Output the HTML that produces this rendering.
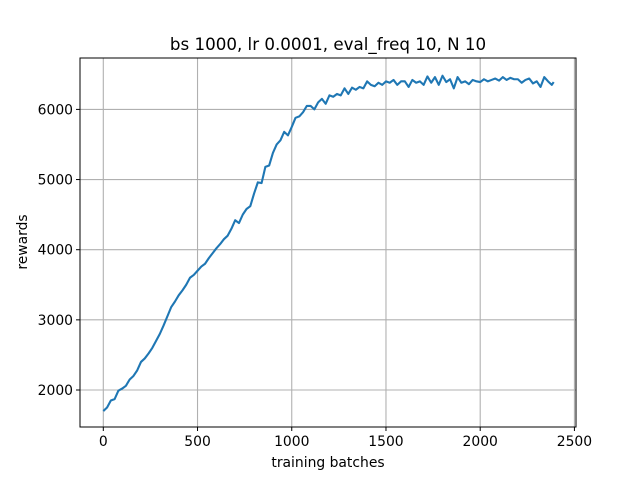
<!DOCTYPE html>
<html><head><meta charset="utf-8"><style>
body{margin:0;background:#fff;}
svg text{font-family:"DejaVu Sans","Liberation Sans",sans-serif;fill:#000;}
</style></head><body>
<svg id="chart" width="640" height="480" viewBox="0 0 640 480" xmlns="http://www.w3.org/2000/svg">
<rect width="640" height="480" fill="#fff"/>
<g id="grid"></g>
<g id="ticks"></g>
<polyline id="line" fill="none" stroke="#1f77b4" stroke-width="2.1" stroke-linejoin="round"/>
<rect x="80" y="58" width="496" height="369" fill="none" stroke="#000" stroke-width="1"/>
<text x="328" y="50" font-size="16.7" text-anchor="middle">bs 1000, lr 0.0001, eval_freq 10, N 10</text>
<text x="328" y="467" font-size="13.9" text-anchor="middle">training batches</text>
<text transform="translate(27,242) rotate(-90)" font-size="13.9" text-anchor="middle">rewards</text>
</svg>
<script>
const batches = [0,20,40,60,80,100,120,140,160,180,200,220,240,260,280,300,320,340,360,380,400,420,440,460,480,500,520,540,560,580,600,620,640,660,680,700,720,740,760,780,800,820,840,860,880,900,920,940,960,980,1000,1020,1040,1060,1080,1100,1120,1140,1160,1180,1200,1220,1240,1260,1280,1300,1320,1340,1360,1380,1400,1420,1440,1460,1480,1500,1520,1540,1560,1580,1600,1620,1640,1660,1680,1700,1720,1740,1760,1780,1800,1820,1840,1860,1880,1900,1920,1940,1960,1980,2000,2020,2040,2060,2080,2100,2120,2140,2160,2180,2200,2220,2240,2260,2280,2300,2320,2340,2360,2380,2390];
const rewards = [1700,1750,1850,1870,1990,2020,2060,2150,2200,2280,2400,2450,2520,2600,2700,2800,2920,3050,3180,3260,3350,3420,3500,3600,3640,3700,3760,3800,3880,3950,4020,4080,4150,4200,4300,4420,4380,4500,4580,4620,4800,4960,4950,5180,5200,5380,5500,5560,5680,5630,5750,5880,5900,5960,6050,6050,6000,6100,6150,6080,6200,6180,6220,6200,6300,6220,6310,6280,6320,6300,6400,6350,6330,6380,6350,6400,6380,6420,6350,6400,6400,6320,6420,6380,6400,6350,6470,6380,6460,6350,6480,6390,6430,6300,6460,6380,6400,6360,6420,6400,6390,6430,6400,6420,6440,6410,6460,6420,6450,6430,6430,6380,6420,6440,6370,6400,6320,6460,6400,6350,6390];
const xTicks = [0,500,1000,1500,2000,2500];
const yTicks = [2000,3000,4000,5000,6000];
const X = v => 103.3 + v * 0.18845;
const Y = v => 390 - (v - 2000) * 0.07015;
const ns = "http://www.w3.org/2000/svg";
const grid = document.getElementById('grid'), ticks = document.getElementById('ticks');
function mk(tag, attrs, parent){const e=document.createElementNS(ns,tag);for(const k in attrs)e.setAttribute(k,attrs[k]);parent.appendChild(e);return e;}
xTicks.forEach(t=>{
  const x=X(t);
  const g=mk('line',{x1:x,x2:x,y1:58,y2:427,stroke:'#b0b0b0','stroke-width':1.1},grid);
  
  
  mk('line',{x1:x,x2:x,y1:427,y2:431,stroke:'#000','stroke-width':1},ticks);
  const l=mk('text',{x:x,y:446,'font-size':13.9,'text-anchor':'middle'},ticks);
  l.textContent=t;
  
  
});
yTicks.forEach(t=>{
  const y=Y(t);
  const g=mk('line',{x1:80,x2:576,y1:y,y2:y,stroke:'#b0b0b0','stroke-width':1.1},grid);
  
  
  mk('line',{x1:76,x2:80,y1:y,y2:y,stroke:'#000','stroke-width':1},ticks);
  const l=mk('text',{x:73,y:y+5,'font-size':13.9,'text-anchor':'end'},ticks);
  l.textContent=t;
  
  
});
document.getElementById('line').setAttribute('points', batches.map((b,i)=>X(b).toFixed(2)+','+Y(rewards[i]).toFixed(2)).join(' '));
</script>
</body></html>
